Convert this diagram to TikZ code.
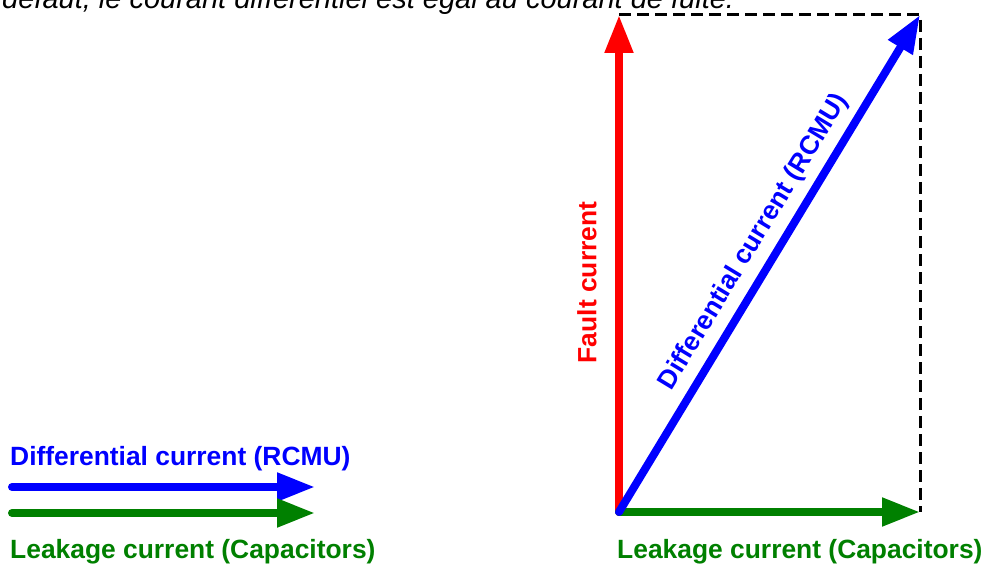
\documentclass[tikz,border=0pt]{standalone}
\usepackage{fontspec}
\setmainfont{Liberation Sans}
\usetikzlibrary{arrows.meta}
\definecolor{vred}{RGB}{255,0,0}
\definecolor{vblue}{RGB}{0,0,255}
\definecolor{vgreen}{RGB}{0,128,0}
\tikzset{
  vec/.style={line width=8pt, line cap=round, -{Triangle[length=38pt,width=27pt]}},
  lbl/.style={font=\bfseries\fontsize{26.4}{30}\selectfont, inner sep=0pt},
  guide/.style={line width=3pt, dash pattern=on 12pt off 6pt, black}
}
\begin{document}
\begin{tikzpicture}[x=1pt,y=-1pt]
\useasboundingbox (0,0) rectangle (985,564);
\begin{scope}
\clip (0,0) rectangle (985,564);
\node[inner sep=0pt, anchor=base west, font=\itshape\fontsize{29}{33}\selectfont] (caption) at (2,9) {défaut, le courant différentiel est égal au courant de fuite.};
\end{scope}
% main diagram points
\coordinate (O) at (619,512);
\coordinate (F) at (619,15);
\coordinate (D) at (920,15);
\coordinate (L) at (920,512);
% dashed guides
\draw[guide] (F) -- (D) -- (L);
% vectors
\draw[vec, vred] (O) -- (F);
\draw[vec, vgreen] (O) -- (L);
\draw[vec, vblue] (O) -- (D);
% labels
\node[lbl, text=vred, rotate=90] (faultlbl) at (587,282.5) {Fault current};
\node[lbl, text=vblue, rotate=58.8] (difflbl) at (754,242) {Differential current (RCMU)};
\node[lbl, text=vgreen, anchor=base west] (leaklbl) at (617,558) {Leakage current (Capacitors)};
% legend
\coordinate (b1) at (12,487);
\coordinate (b2) at (315,487);
\coordinate (g1) at (12,513);
\coordinate (g2) at (315,513);
\draw[vec, vblue] (b1) -- (b2);
\draw[vec, vgreen] (g1) -- (g2);
\node[lbl, text=vblue, anchor=base west] (legdiff) at (10,465) {Differential current (RCMU)};
\node[lbl, text=vgreen, anchor=base west] (legleak) at (10,558) {Leakage current (Capacitors)};
\end{tikzpicture}
\end{document}
